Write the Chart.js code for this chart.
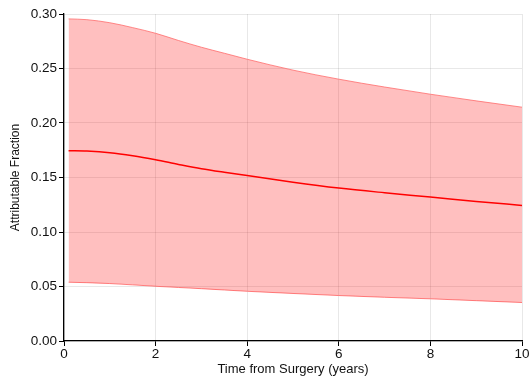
<!DOCTYPE html>
<html>
<head>
<meta charset="utf-8">
<script src="https://cdn.jsdelivr.net/npm/chart.js@4"></script>
<style>
html,body{margin:0;padding:0;background:#fff;}
#c{display:block;}
</style>
</head>
<body>
<canvas id="c" width="530" height="378"></canvas>
<script>
const years = [0.1, 0.5, 1, 1.5, 2, 2.5, 3, 3.5, 4, 5, 6, 7, 8, 9, 10];
const upper = [0.2955, 0.2948, 0.292, 0.2875, 0.2823, 0.2757, 0.2695, 0.264, 0.2585, 0.2485, 0.2402, 0.233, 0.2264, 0.2203, 0.2145];
const estimate = [0.1745, 0.1742, 0.1728, 0.170, 0.1663, 0.162, 0.158, 0.1548, 0.1519, 0.1457, 0.1403, 0.136, 0.1321, 0.128, 0.1244];
const lower = [0.0539, 0.0535, 0.0527, 0.0515, 0.0502, 0.0491, 0.048, 0.0468, 0.0456, 0.0436, 0.0417, 0.0401, 0.0387, 0.037, 0.0353];
const xTicks = [0, 2, 4, 6, 8, 10];
const yTicks = [0, 0.05, 0.10, 0.15, 0.20, 0.25, 0.30];

const pts = arr => years.map((x, i) => ({x: x, y: arr[i]}));
const font = "'Liberation Sans', Arial, Helvetica, sans-serif";

new Chart(document.getElementById('c'), {
  type: 'line',
  data: {
    datasets: [
      { data: pts(upper), borderColor: 'rgba(255,100,100,0.75)', borderWidth: 1, pointRadius: 0,
        backgroundColor: 'rgba(255,0,0,0.25)', fill: {target: 1}, cubicInterpolationMode: 'monotone' },
      { data: pts(lower), borderColor: 'rgba(255,100,100,0.75)', borderWidth: 1, pointRadius: 0,
        fill: false, cubicInterpolationMode: 'monotone' },
      { data: pts(estimate), borderColor: '#ff0000', borderWidth: 1.5, pointRadius: 0,
        fill: false, cubicInterpolationMode: 'monotone' }
    ]
  },
  options: {
    responsive: false,
    animation: false,
    layout: { padding: { top: 14, right: 8, left: 0, bottom: 0 } },
    plugins: { legend: { display: false }, tooltip: { enabled: false } },
    scales: {
      x: {
        type: 'linear', min: 0, max: 10,
        afterBuildTicks: s => { s.ticks = xTicks.map(v => ({value: v})); },
        afterFit: s => { s.height = 37; },
        grid: { color: 'rgba(0,0,0,0.09)', tickColor: '#000', tickLength: 5, drawTicks: true },
        border: { color: '#000', width: 1.3 },
        ticks: { color: '#111', font: { family: font, size: 13.5 }, padding: 0, maxRotation: 0,
                 callback: v => String(v) },
        title: { display: true, text: 'Time from Surgery (years)', color: '#111',
                 font: { family: font, size: 13 }, padding: { top: 0, bottom: 1 } }
      },
      y: {
        type: 'linear', min: 0, max: 0.30,
        afterBuildTicks: s => { s.ticks = yTicks.map(v => ({value: v})); },
        afterFit: s => { s.width = 64; },
        grid: { color: 'rgba(0,0,0,0.09)', tickColor: '#000', tickLength: 5 },
        border: { color: '#000', width: 1.3 },
        ticks: { color: '#111', font: { family: font, size: 13.5 }, padding: 2,
                 callback: v => v.toFixed(2) },
        title: { display: true, text: 'Attributable Fraction', color: '#111',
                 font: { family: font, size: 12 }, padding: { top: 8, bottom: 0 } }
      }
    }
  }
});
</script>
</body>
</html>
